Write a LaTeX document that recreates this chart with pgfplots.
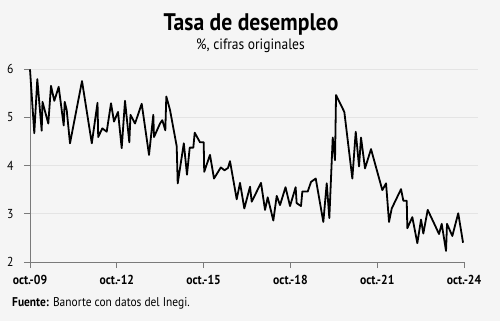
\documentclass[border=0pt]{standalone}
\usepackage{pgfplots}
\pgfplotsset{compat=1.18}
\usepackage{pgfplotstable}
\usetikzlibrary{backgrounds}
\usepackage{fontspec}
\setmainfont{PT Sans}[FakeStretch=0.9]
\definecolor{bgc}{HTML}{F5F5F5}
\definecolor{gridc}{HTML}{E4E4E4}
\definecolor{axc}{HTML}{7A7A7A}
\pgfplotstableread{
m v
0 5.99
1.78 4.67
3.03 5.79
4.85 4.72
5.18 5.32
7.59 4.87
8.71 5.65
10.08 5.34
11.90 5.63
13.98 4.83
14.39 5.32
15.22 5.15
16.59 4.46
21.57 5.75
25.63 4.46
28.0 5.30
28.29 4.59
29.99 4.77
31.81 4.70
33.6 5.29
34.84 4.91
36.5 5.11
38.03 4.36
39.4 5.34
41.19 4.48
41.68 5.05
43.55 4.87
46.33 5.28
49.36 4.22
51.14 5.05
51.43 4.59
53.92 4.87
54.87 4.94
56.12 4.73
56.53 5.43
58.07 5.15
60.84 4.40
61.26 3.63
63.79 4.46
65.11 3.81
66.24 4.37
67.73 4.37
68.31 4.68
70.51 4.48
72.04 4.48
72.25 3.87
74.65 4.22
76.31 3.73
79.14 3.96
80.67 3.90
82.12 3.95
82.95 4.09
85.73 3.30
87.1 3.64
88.88 3.11
91.25 3.56
91.95 3.25
95.81 3.64
97.47 3.08
98.59 3.34
100.91 2.86
102.32 3.37
103.69 3.18
105.97 3.55
107.84 3.16
110.17 3.55
110.59 3.22
112.4 3.16
112.94 3.46
115.18 3.46
116.55 3.66
118.5 3.73
121.65 2.83
123.06 3.63
124.14 2.91
125.55 4.58
126.5 4.11
126.92 5.46
130.36 5.11
133.68 3.73
135.09 4.70
136.46 3.98
137.28 4.58
138.94 3.94
141.43 4.34
146.12 3.49
147.66 3.63
148.90 2.83
150.02 3.11
153.88 3.51
154.83 3.27
156.24 3.27
156.49 2.70
158.56 2.93
160.64 2.39
162.17 2.88
163.12 2.59
164.94 3.08
167.68 2.79
169.63 2.58
170.75 2.79
172.54 2.23
172.95 2.79
175.15 2.54
177.6 3.01
179.6 2.40
}\desempleo
\begin{document}
\begin{tikzpicture}
\begin{axis}[
  scale only axis, width=448pt, height=193pt,
  xmin=0, xmax=185.8, ymin=2, ymax=6,
  clip=false,
  axis x line*=bottom, axis y line*=left,
  x axis line style={draw=none},
  y axis line style={axc, line width=0.9pt},
  xtick={0,36,72,108,144,180},
  xticklabels={oct.-09,oct.-12,oct.-15,oct.-18,oct.-21,oct.-24},
  ytick={3,4,5,6},
  extra y ticks={2},
  extra y tick style={grid=none},
  ymajorgrids,
  major grid style={gridc, line width=0.9pt},
  tick align=outside,
  major tick length=6pt,
  every tick/.style={axc, line width=0.9pt},
  xticklabel style={font=\bfseries\fontsize{13}{15}\selectfont, anchor=base, yshift=-16pt},
  yticklabel style={font=\fontsize{13}{15}\selectfont, anchor=east, xshift=-7pt},
  /pgf/number format/assume math mode=true,
]
\coordinate (O) at (axis cs:0,2);
\draw[axc, line width=0.9pt] (axis cs:0,2) -- (axis cs:180,2);
\addplot[black, line width=1.8pt, line join=round, mark=none] table[x=m, y=v] {\desempleo};
\end{axis}
\begin{scope}[shift={(O)}, x=1pt, y=1pt]
\node[anchor=base, font=\bfseries\fontsize{24}{26}\selectfont] at (221,231) {Tasa de desempleo};
\node[anchor=base, font=\fontsize{15}{17}\selectfont] at (220.5,212) {\%, cifras originales};
\node[anchor=base west, inner sep=0pt, font=\fontsize{12.7}{14}\selectfont] at (-18,-44.5) {\textbf{Fuente:} Banorte con datos del Inegi.};
\end{scope}
\begin{scope}[on background layer, shift={(O)}, x=1pt, y=1pt]
\fill[bgc] (-30,-59) rectangle (470,262);
\end{scope}
\pgfresetboundingbox
\path[shift={(O)}, x=1pt, y=1pt] (-30,-59) rectangle (470,262);
\end{tikzpicture}
\end{document}
